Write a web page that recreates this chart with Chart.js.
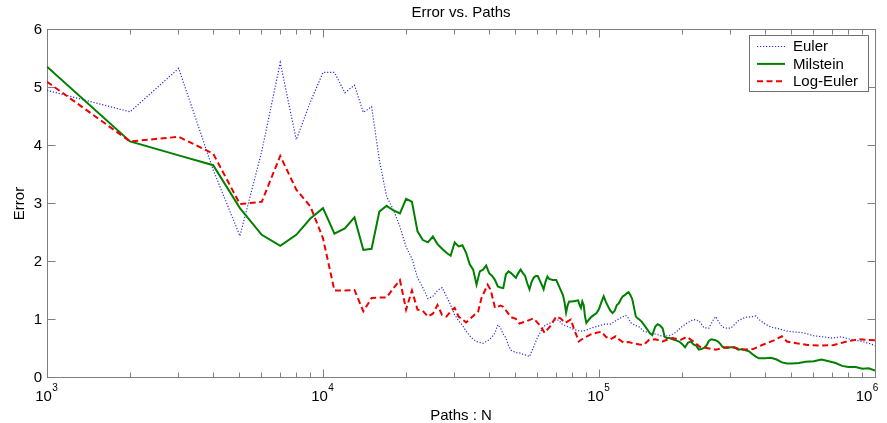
<!DOCTYPE html>
<html>
<head>
<meta charset="utf-8">
<script src="https://cdn.jsdelivr.net/npm/chart.js@4/dist/chart.umd.min.js"></script>
<style>
html,body{margin:0;padding:0;background:#fff;}
#wrap{width:887px;height:423px;position:relative;}
</style>
</head>
<body>
<div id="wrap"><canvas id="c"></canvas></div>
<script>
// ---------------- data ----------------
const chartTitle = 'Error vs. Paths';
const xAxisTitle = 'Paths : N';
const yAxisTitle = 'Error';
const seriesNames = ['Euler', 'Milstein', 'Log-Euler'];
const xTickPowers = [3, 4, 5, 6];
const yTickValues = [0, 1, 2, 3, 4, 5, 6];

const eulerN = [1000,2000,3000,4000,5000,6000,7000,8000,9000,10000,11000,12000,13000,14000,15000,16000,17000,18000,19000,20000,21000,22000,23000,24000,25000,26000,27000,28000,29000,30000,31000,32000,33000,34000,35000,36000,38000,39000,40000,41000,42000,43000,44000,45000,46000,47000,48000,50000,52000,53000,55000,56000,57000,58000,59000,60000,62000,63000,65000,66000,68000,70000,72000,73000,75000,76000,80000,85000,88000,90000,95000,100000,105000,110000,115000,120000,125000,128000,130000,135000,140000,145000,150000,160000,170000,180000,190000,200000,210000,220000,230000,240000,250000,260000,265000,270000,280000,290000,300000,320000,340000,360000,370000,380000,400000,420000,440000,480000,500000,550000,600000,650000,700000,750000,800000,850000,900000,950000,1000000];
const eulerErr = [4.95,4.58,5.33,3.58,2.44,3.90,5.43,4.10,4.75,5.26,5.26,4.91,5.04,4.57,4.67,3.75,3.12,2.89,2.60,2.25,2.05,1.72,1.55,1.36,1.40,1.50,1.55,1.40,1.25,1.08,0.98,0.90,0.80,0.72,0.66,0.62,0.59,0.62,0.65,0.70,0.77,0.91,0.85,0.75,0.68,0.55,0.47,0.43,0.42,0.40,0.38,0.36,0.45,0.53,0.62,0.70,0.82,0.88,0.92,0.93,0.97,1.00,0.98,0.93,0.90,0.89,0.84,0.80,0.80,0.82,0.86,0.89,0.92,0.92,0.98,1.03,1.07,1.02,0.95,0.90,0.87,0.80,0.78,0.75,0.71,0.72,0.78,0.88,0.95,1.00,0.98,0.86,0.85,1.00,1.05,0.98,0.87,0.85,0.85,0.98,1.04,1.05,1.06,1.00,0.92,0.87,0.85,0.80,0.79,0.77,0.72,0.70,0.68,0.70,0.67,0.64,0.62,0.59,0.55];

const milsteinN = [1000,2000,3000,4000,5000,6000,7000,8000,9000,10000,11000,12000,13000,14000,15000,16000,17000,18000,19000,20000,21000,22000,23000,24000,25000,26000,27000,28000,29000,30000,31000,32000,33000,34000,35000,36000,37000,38000,39000,40000,41000,42000,43000,44000,45000,46000,47000,48000,49000,50000,51000,52000,53000,54000,55000,56000,57000,58000,59000,60000,62000,63000,64000,65000,66000,68000,70000,72000,74000,75000,76000,77000,78000,80000,82000,84000,85000,86000,87000,88000,89000,90000,92000,94000,96000,98000,100000,102000,104000,106000,108000,110000,112000,114000,116000,118000,120000,122000,124000,126000,128000,130000,132000,134000,136000,138000,140000,143000,146000,150000,153000,156000,160000,163000,166000,170000,173000,176000,180000,185000,190000,195000,200000,205000,210000,215000,220000,225000,230000,235000,240000,245000,250000,255000,260000,265000,270000,275000,280000,290000,300000,310000,320000,330000,340000,350000,360000,370000,380000,400000,420000,440000,460000,480000,500000,530000,560000,600000,640000,680000,720000,760000,800000,850000,900000,950000,1000000];
const milsteinErr = [5.36,4.07,3.83,3.66,2.92,2.46,2.27,2.46,2.74,2.92,2.48,2.57,2.76,2.20,2.22,2.86,2.96,2.88,2.83,3.08,3.03,2.52,2.37,2.33,2.43,2.30,2.22,2.15,2.10,2.33,2.26,2.28,2.15,1.95,1.86,1.60,1.83,1.86,1.93,1.80,1.75,1.68,1.57,1.55,1.54,1.78,1.83,1.80,1.76,1.72,1.80,1.86,1.80,1.75,1.62,1.52,1.65,1.72,1.75,1.75,1.60,1.52,1.65,1.74,1.70,1.68,1.68,1.55,1.42,1.30,1.12,1.25,1.31,1.31,1.32,1.33,1.25,1.20,1.31,1.25,1.05,0.94,1.00,1.05,1.08,1.11,1.18,1.30,1.40,1.30,1.22,1.15,1.11,1.15,1.25,1.28,1.35,1.40,1.42,1.45,1.47,1.42,1.35,1.20,1.05,1.02,1.00,0.96,0.90,0.82,0.76,0.73,0.88,0.92,0.90,0.85,0.70,0.68,0.68,0.66,0.64,0.62,0.58,0.52,0.60,0.62,0.57,0.55,0.48,0.49,0.51,0.55,0.63,0.66,0.65,0.64,0.62,0.58,0.53,0.51,0.52,0.52,0.48,0.49,0.47,0.45,0.40,0.36,0.33,0.33,0.34,0.31,0.26,0.24,0.24,0.25,0.27,0.28,0.31,0.28,0.25,0.20,0.18,0.18,0.15,0.16,0.12];

const logEulerN = [1000,2000,3000,4000,5000,6000,7000,8000,9000,10000,11000,12000,13000,14000,15000,16000,17000,18000,19000,20000,21000,22000,23000,24000,25000,26000,27000,28000,29000,30000,31000,33000,35000,36500,37500,39500,40500,42000,44000,45000,48000,50000,51500,54500,58000,61500,63500,66500,70000,72500,75500,79000,81000,84500,88000,93000,98000,102000,106000,110000,115000,118000,123000,128000,133000,140000,145000,152000,160000,170000,178000,185000,198000,208000,220000,232000,245000,265000,290000,305000,330000,362000,390000,430000,460000,480000,520000,570000,640000,710000,790000,870000,935000,1000000];
const logEulerErr = [5.10,4.07,4.15,3.86,2.99,3.03,3.82,3.24,2.95,2.40,1.50,1.50,1.51,1.14,1.37,1.38,1.38,1.54,1.68,1.17,1.50,1.17,1.15,1.05,1.10,1.25,1.08,1.05,1.14,1.20,1.05,0.95,1.06,1.14,1.37,1.60,1.51,1.20,1.24,1.22,1.04,1.01,0.93,0.97,1.02,0.88,0.77,0.88,1.05,1.02,0.94,1.00,0.85,0.62,0.68,0.74,0.77,0.79,0.70,0.66,0.71,0.66,0.60,0.61,0.59,0.57,0.56,0.65,0.66,0.62,0.66,0.68,0.65,0.70,0.62,0.53,0.51,0.48,0.52,0.52,0.48,0.49,0.56,0.64,0.71,0.62,0.59,0.56,0.55,0.56,0.62,0.66,0.65,0.64];

// ---------------- styles ----------------
const FONT = "'Liberation Sans', Arial, Helvetica, sans-serif";
const FRAME = '#7f7f7f';
Chart.defaults.font.family = FONT;
Chart.defaults.color = '#000';

function toPoints(xs, ys) { return xs.map((x, i) => ({ x: x, y: ys[i] })); }
function isPow10(v) { const l = Math.log10(v); return Math.abs(l - Math.round(l)) < 1e-9; }

const framePlugin = {
  id: 'frameTicks',
  beforeDraw(chart) {
    const xs = chart.scales.x;
    const items = xs.getLabelItems();
    for (let i = items.length - 1; i >= 0; i--) {
      if (items[i].label) { items[i].options.translation[0] -= 7.5; break; }
    }
  },
  beforeDatasetsDraw(chart) {
    const ctx = chart.ctx, ca = chart.chartArea;
    const xs = chart.scales.x, ys = chart.scales.y;
    const L = Math.floor(ca.left) + 0.5, R = Math.floor(ca.right) + 0.5;
    const T = Math.floor(ca.top) + 0.5, B = Math.floor(ca.bottom) + 0.5;
    ctx.save();
    ctx.strokeStyle = FRAME; ctx.lineWidth = 1;
    ctx.strokeRect(L, T, R - L, B - T);
    ctx.beginPath();
    xs.ticks.forEach(t => {
      const px = Math.floor(xs.getPixelForValue(t.value)) + 0.5;
      const len = isPow10(t.value) ? 8 : 5;
      ctx.moveTo(px, B); ctx.lineTo(px, B - len);
      ctx.moveTo(px, T); ctx.lineTo(px, T + len);
    });
    ys.ticks.forEach(t => {
      const py = Math.floor(ys.getPixelForValue(t.value)) + 0.5;
      ctx.moveTo(L, py); ctx.lineTo(L + 8, py);
      ctx.moveTo(R, py); ctx.lineTo(R - 8, py);
    });
    ctx.stroke();
    ctx.restore();
  },
  afterDraw(chart) {
    const ctx = chart.ctx, ca = chart.chartArea;
    const xs = chart.scales.x;
    // exponents of the x tick labels
    const items = xs.getLabelItems();
    ctx.save();
    ctx.fillStyle = '#000';
    items.forEach((it, i) => {
      if (!it.label) return;
      const t = xs.ticks[i];
      const p = Math.round(Math.log10(t.value));
      if (xTickPowers.indexOf(p) < 0) return;
      ctx.font = '15px ' + FONT;
      const w = ctx.measureText(it.label).width;
      const x = it.options.translation[0];
      const midY = it.options.translation[1] + it.textOffset;
      ctx.font = '10px ' + FONT;
      ctx.textAlign = 'left';
      ctx.textBaseline = 'alphabetic';
      ctx.fillText(String(p), x + w / 2 + 0.5, midY - 5.5);
    });
    // legend
    const bw = 119, bh = 56;
    const bx = Math.floor(ca.right) - 126, by = Math.floor(ca.top) + 6;
    ctx.fillStyle = '#fff';
    ctx.fillRect(bx, by, bw, bh);
    ctx.strokeStyle = '#707070'; ctx.lineWidth = 1;
    ctx.strokeRect(bx + 0.5, by + 0.5, bw, bh);
    chart.data.datasets.forEach((ds, i) => {
      const y = by + 11.5 + i * 17.4;
      ctx.save();
      ctx.strokeStyle = ds.borderColor;
      ctx.lineWidth = ds.borderWidth;
      ctx.setLineDash(ds.borderDash || []);
      ctx.beginPath();
      ctx.moveTo(bx + 8, y); ctx.lineTo(bx + 36, y);
      ctx.stroke();
      ctx.restore();
      ctx.fillStyle = '#000';
      ctx.font = '15px ' + FONT;
      ctx.textAlign = 'left';
      ctx.textBaseline = 'middle';
      ctx.fillText(ds.label, bx + 44, y + 0.5);
    });
    ctx.restore();
  }
};

new Chart(document.getElementById('c'), {
  type: 'line',
  data: {
    datasets: [
      { label: seriesNames[0], data: toPoints(eulerN, eulerErr), borderColor: 'rgb(45,45,225)', borderWidth: 1.2, borderDash: [1.2, 1.8], order: 3 },
      { label: seriesNames[1], data: toPoints(milsteinN, milsteinErr), borderColor: '#008000', borderWidth: 2, borderDash: [], order: 2 },
      { label: seriesNames[2], data: toPoints(logEulerN, logEulerErr), borderColor: '#ee0000', borderWidth: 2, borderDash: [6, 3.5], order: 1 }
    ]
  },
  options: {
    responsive: true,
    maintainAspectRatio: false,
    animation: false,
    events: [],
    elements: { point: { radius: 0 }, line: { tension: 0, fill: false } },
    layout: { padding: { left: 0, right: 12, top: 0, bottom: 0 } },
    plugins: {
      legend: { display: false },
      tooltip: { enabled: false },
      title: {
        display: true, text: chartTitle, fullSize: false, color: '#000',
        font: { family: FONT, size: 15, weight: 'normal' },
        padding: { top: 4, bottom: 7.5 }
      }
    },
    scales: {
      x: {
        type: 'logarithmic', min: 1000, max: 1000000,
        afterFit: s => { s.height = 45.5; s.paddingLeft = 0; s.paddingRight = 0; },
        afterBuildTicks: s => {
          const t = [];
          for (let e = xTickPowers[0]; e < xTickPowers[xTickPowers.length - 1]; e++) {
            for (let m = 1; m <= 9; m++) t.push({ value: m * Math.pow(10, e), major: m === 1 });
          }
          t.push({ value: Math.pow(10, xTickPowers[xTickPowers.length - 1]), major: true });
          s.ticks = t;
        },
        grid: { display: false, drawTicks: false },
        border: { display: false },
        ticks: {
          autoSkip: false, maxRotation: 0, minRotation: 0, padding: 10, labelOffset: -3.5,
          color: '#000', font: { family: FONT, size: 15 },
          callback: v => (isPow10(v) ? '10' : '')
        },
        title: { display: true, text: xAxisTitle, color: '#000', font: { family: FONT, size: 15, lineHeight: 1 }, padding: 0 }
      },
      y: {
        min: 0, max: 6,
        afterFit: s => { s.width = 47; s.paddingTop = 0; s.paddingBottom = 0; },
        afterBuildTicks: s => { s.ticks = yTickValues.map(v => ({ value: v })); },
        grid: { display: false, drawTicks: false },
        border: { display: false },
        ticks: { stepSize: 1, padding: 5, color: '#000', font: { family: FONT, size: 15 } },
        title: { display: true, text: yAxisTitle, color: '#000', font: { family: FONT, size: 15 }, padding: { top: 11, bottom: 0 } }
      }
    }
  },
  plugins: [framePlugin]
});
</script>
</body>
</html>
